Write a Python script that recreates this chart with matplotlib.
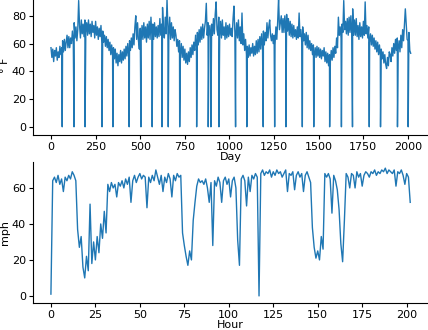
import numpy as np
import matplotlib.pyplot as plt

# daily temperature, one reading every 5 days starting at day 0
temp = [
    57, 50, 56, 47, 55, 51, 57, 48, 54, 50, 58, 52, 57, 62, 54, 63, 55, 61, 66, 57,
    65, 57, 64, 60, 69, 61, 75, 64, 72, 62, 70, 91, 73, 64, 77, 67, 74, 65, 77, 68,
    75, 66, 77, 67, 74, 65, 76, 68, 73, 64, 76, 66, 72, 63, 71, 65, 73, 60, 69, 61,
    66, 58, 65, 57, 63, 55, 61, 52, 59, 51, 57, 49, 56, 46, 53, 44, 52, 47, 55, 46,
    54, 48, 56, 49, 58, 51, 60, 52, 62, 55, 64, 57, 67, 59, 72, 80, 63, 75, 62, 56,
    71, 62, 73, 63, 75, 64, 72, 61, 74, 64, 76, 63, 79, 66, 74, 63, 75, 65, 72, 64,
    73, 65, 78, 66, 74, 86, 70, 64, 79, 67, 92, 71, 66, 79, 63, 75, 64, 72, 62, 70,
    66, 58, 63, 54, 62, 52, 60, 50, 58, 48, 56, 46, 53, 45, 54, 47, 57, 50, 59, 52,
    61, 55, 66, 57, 68, 59, 70, 61, 72, 63, 74, 64, 71, 76, 89, 66, 75, 64, 73, 65,
    74, 66, 78, 67, 81, 90, 70, 66, 79, 65, 76, 64, 77, 66, 72, 63, 75, 64, 73, 65,
    74, 66, 71, 65, 78, 87, 68, 63, 75, 64, 77, 62, 72, 60, 82, 59, 67, 55, 63, 52,
    58, 50, 59, 51, 57, 53, 60, 51, 58, 52, 62, 53, 63, 54, 65, 56, 67, 58, 69, 59,
    68, 62, 75, 64, 72, 77, 66, 62, 67, 60, 66, 59, 72, 63, 76, 93, 70, 75, 80, 68,
    78, 68, 80, 70, 81, 69, 78, 66, 76, 65, 74, 64, 73, 65, 70, 63, 72, 64, 82, 65,
    70, 61, 72, 62, 67, 59, 68, 57, 66, 56, 62, 55, 60, 52, 59, 51, 57, 50, 58, 51,
    57, 50, 56, 49, 55, 51, 57, 47, 54, 46, 53, 44, 52, 47, 55, 48, 57, 50, 58, 53,
    64, 57, 79, 66, 72, 64, 74, 68, 91, 70, 76, 67, 78, 66, 79, 68, 80, 67, 85, 66,
    77, 66, 78, 65, 73, 63, 75, 65, 72, 64, 76, 66, 90, 67, 73, 64, 72, 61, 67, 59,
    66, 58, 64, 56, 62, 54, 61, 52, 59, 51, 56, 49, 54, 46, 52, 45, 42, 50, 44, 54,
    52, 47, 57, 51, 60, 53, 63, 55, 64, 56, 62, 54, 66, 57, 70, 62, 73, 85, 74, 63,
    62, 68, 55, 53,
]
# days where the sensor reported 0
zero_days = [63, 129, 191, 286, 347, 438, 504, 567, 622, 657, 721, 816, 881, 896,
             941, 1034, 1097, 1189, 1253, 1316, 1408, 1472, 1561, 1627, 1689, 1783,
             1846, 1941, 2001]

# hourly wind speed
speed = [
    1, 64, 66, 63, 67, 62, 65, 58, 66, 64, 67, 65, 69, 67, 64, 37, 27, 33, 16, 10,
    22, 14, 51, 18, 30, 20, 33, 24, 40, 32, 47, 35, 62, 58, 63, 60, 62, 55, 63, 61,
    64, 60, 65, 62, 66, 52, 64, 67, 63, 66, 68, 65, 67, 66, 49, 66, 63, 67, 64, 70,
    66, 62, 67, 58, 66, 63, 68, 65, 55, 67, 64, 68, 66, 67, 35, 28, 22, 17, 25, 20,
    42, 52, 61, 65, 63, 64, 62, 65, 60, 52, 63, 28, 64, 61, 66, 63, 52, 64, 66, 62,
    65, 55, 64, 66, 60, 31, 17, 65, 67, 64, 50, 66, 58, 67, 65, 68, 66, 0, 68, 70,
    67, 69, 68, 70, 66, 69, 67, 70, 68, 69, 66, 68, 70, 58, 68, 67, 69, 59, 67, 69,
    66, 68, 58, 67, 69, 66, 63, 38, 27, 21, 25, 20, 33, 26, 68, 66, 68, 65, 46, 67,
    64, 59, 48, 29, 19, 42, 68, 66, 60, 68, 67, 60, 69, 66, 68, 61, 67, 69, 68, 66,
    69, 68, 70, 67, 69, 68, 70, 69, 71, 68, 70, 69, 68, 70, 61, 69, 68, 70, 67, 62,
    68, 66, 52,
]

day = np.concatenate([np.arange(len(temp)) * 5, zero_days])
val = np.concatenate([temp, np.zeros(len(zero_days))])
order = np.argsort(day)
day, val = day[order], val[order]
hour = np.arange(len(speed))

plt.rcParams['font.size'] = 8
fig = plt.figure(figsize=(4.28, 3.30), dpi=100)
ax1 = fig.add_axes([0.077, 0.591, 0.923, 0.42])
ax2 = fig.add_axes([0.077, 0.082, 0.923, 0.427])

ax1.plot(day, val, color='#1f77b4', lw=1)
ax1.set_ylim(-5.9, 94)
ax1.set_xlim(-101, 2112)
ax1.set_xticks([0, 250, 500, 750, 1000, 1250, 1500, 1750, 2000])
ax1.set_yticks([0, 20, 40, 60, 80])
ax1.set_xlabel('Day', labelpad=0)
ax1.set_ylabel('° F', labelpad=1)

ax2.plot(hour, speed, color='#1f77b4', lw=1)
ax2.set_ylim(-3.9, 74.4)
ax2.set_xlim(-10.1, 212)
ax2.set_xticks([0, 25, 50, 75, 100, 125, 150, 175, 200])
ax2.set_yticks([0, 20, 40, 60])
ax2.set_xlabel('Hour', labelpad=0)
ax2.set_ylabel('mph', labelpad=1)

for ax in (ax1, ax2):
    ax.spines['top'].set_visible(False)
    ax.spines['right'].set_visible(False)
    ax.tick_params(length=3, pad=2)

fig.savefig('out.png', dpi=100)
